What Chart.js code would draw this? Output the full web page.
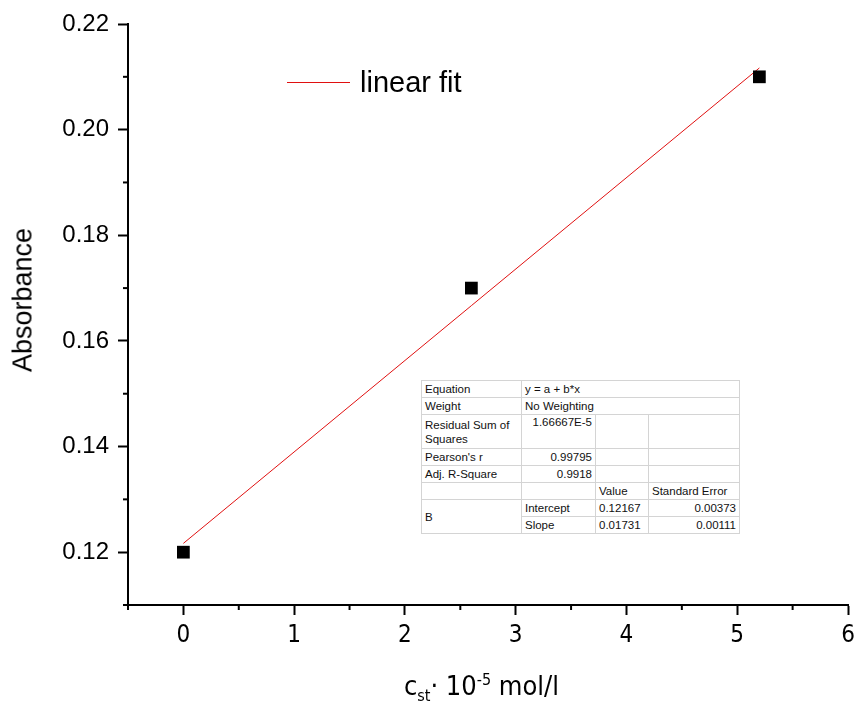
<!DOCTYPE html>
<html>
<head>
<meta charset="utf-8">
<script src="https://cdn.jsdelivr.net/npm/chart.js@4.4.1/dist/chart.umd.min.js"></script>
<style>
  body { margin: 0; background: #fff; }
  #wrap { position: relative; width: 857px; height: 702px; }
  #chart { position: absolute; left: 0; top: 0; }
  .legend { position: absolute; left: 287px; top: 65px; height: 34px; display: flex; align-items: center;
            font-family: "Liberation Sans", Arial, sans-serif; font-size: 29px; color: #000; }
  .legend .swatch { width: 63px; height: 0; border-top: 1px solid #e01010; margin-right: 10px; }
  .ytitle { position: absolute; left: 23px; top: 300px; transform: translate(-50%, -50%) rotate(-90deg);
            font-family: "Liberation Sans", Arial, sans-serif; font-size: 27px; color: #000; white-space: nowrap; }
  .xtitle { position: absolute; left: 0; width: 963px; top: 670px; text-align: center;
            font-family: "Liberation Sans Narrow", "DejaVu Sans Condensed", sans-serif; font-size: 27px; color: #000; }
  .xtitle sub, .xtitle sup { font-size: 16px; }
  table.fit { position: absolute; left: 421px; top: 380px; width: 318px; border-collapse: collapse;
              font-family: "Liberation Sans", Arial, sans-serif; font-size: 11.5px; color: #111; background: #fff;
              border: 1px solid #999; table-layout: fixed; }
  table.fit td { border: 1px solid #d4d4d4; padding: 0 3px; height: 16px; line-height: 14px; vertical-align: middle; white-space: nowrap; }
  table.fit td.r { text-align: right; }
  table.fit td.wrap { white-space: normal; height: 33px; }
</style>
</head>
<body>
<div id="wrap">
  <canvas id="chart" width="857" height="702"></canvas>
  <div class="legend"><span class="swatch"></span>linear fit</div>
  <div class="ytitle">Absorbance</div>
  <div class="xtitle">c<sub>st</sub>· 10<sup>-5</sup> mol/l</div>
  <table class="fit">
    <colgroup><col style="width:100px"><col style="width:74px"><col style="width:53px"><col style="width:91px"></colgroup>
    <tr><td>Equation</td><td colspan="3">y = a + b*x</td></tr>
    <tr><td>Weight</td><td colspan="3">No Weighting</td></tr>
    <tr><td class="wrap">Residual Sum of Squares</td><td class="r" style="vertical-align:top">1.66667E-5</td><td></td><td></td></tr>
    <tr><td>Pearson's r</td><td class="r">0.99795</td><td></td><td></td></tr>
    <tr><td>Adj. R-Square</td><td class="r">0.9918</td><td></td><td></td></tr>
    <tr><td></td><td></td><td>Value</td><td>Standard Error</td></tr>
    <tr><td rowspan="2">B</td><td>Intercept</td><td>0.12167</td><td class="r">0.00373</td></tr>
    <tr><td>Slope</td><td>0.01731</td><td class="r">0.00111</td></tr>
  </table>
</div>
<script>
// datos medidos
const concentraciones = [0, 2.6, 5.2];
const absorbancias = [0.12, 0.17, 0.21];

// recta de ajuste (a + b*x en los extremos)
const ajusteX = [0, 5.2];
const ajusteY = [0.12167, 0.21168];

// etiquetas de los ejes
const xEtiquetas = [0, 1, 2, 3, 4, 5, 6];
const yEtiquetas = [0.12, 0.14, 0.16, 0.18, 0.20, 0.22];

const esEtiquetaX = v => xEtiquetas.some(t => Math.abs(t - v) < 1e-6);
const esEtiquetaY = v => yEtiquetas.some(t => Math.abs(t - v) < 1e-6);

// marcas menores más cortas
const marcasMenores = {
    id: "marcasMenores",
    afterDraw(chart) {
        const ctx = chart.ctx;
        const x = chart.scales.x, y = chart.scales.y;
        ctx.save();
        ctx.strokeStyle = "#000";
        ctx.lineWidth = 2;
        x.ticks.forEach(t => {
            if (esEtiquetaX(t.value)) return;
            const px = x.getPixelForValue(t.value);
            ctx.beginPath();
            ctx.moveTo(px, x.top);
            ctx.lineTo(px, x.top + 5);
            ctx.stroke();
        });
        y.ticks.forEach(t => {
            if (esEtiquetaY(t.value)) return;
            const py = y.getPixelForValue(t.value);
            ctx.beginPath();
            ctx.moveTo(y.right, py);
            ctx.lineTo(y.right - 5, py);
            ctx.stroke();
        });
        ctx.restore();
    }
};

new Chart(document.getElementById("chart"), {
    type: "scatter",
    data: {
        datasets: [
            {
                label: "datos",
                data: concentraciones.map((c, i) => ({ x: c, y: absorbancias[i] })),
                pointStyle: "rect",
                pointRadius: 9,
                backgroundColor: "#000",
                borderColor: "#000",
                borderWidth: 0
            },
            {
                label: "linear fit",
                data: ajusteX.map((c, i) => ({ x: c, y: ajusteY[i] })),
                showLine: true,
                pointRadius: 0,
                borderColor: "#e01010",
                borderWidth: 1
            }
        ]
    },
    options: {
        responsive: false,
        animation: false,
        layout: { padding: { top: 24, right: 8, left: 0, bottom: 0 } },
        plugins: { legend: { display: false }, tooltip: { enabled: false } },
        scales: {
            x: {
                type: "linear",
                min: -0.5,
                max: 6,
                afterFit: s => { s.height = 97; s.paddingRight = 0; s.paddingLeft = 0; },
                border: { display: true, color: "#000", width: 2 },
                grid: {
                    drawOnChartArea: false,
                    tickLength: 10,
                    tickWidth: 2,
                    tickColor: c => (c.tick && esEtiquetaX(c.tick.value)) ? "#000" : "rgba(0,0,0,0)"
                },
                ticks: {
                    stepSize: 0.5,
                    padding: 6,
                    color: "#000",
                    font: { family: "'Liberation Sans Narrow', 'DejaVu Sans Condensed', sans-serif", size: 24 },
                    callback: v => esEtiquetaX(v) ? String(v) : ""
                }
            },
            y: {
                type: "linear",
                min: 0.11,
                max: 0.22,
                afterFit: s => { s.width = 128; },
                border: { display: true, color: "#000", width: 2 },
                grid: {
                    drawOnChartArea: false,
                    tickLength: 10,
                    tickWidth: 2,
                    tickColor: c => (c.tick && esEtiquetaY(c.tick.value)) ? "#000" : "rgba(0,0,0,0)"
                },
                ticks: {
                    stepSize: 0.01,
                    padding: 9,
                    color: "#000",
                    font: { family: "'Liberation Sans', Arial, sans-serif", size: 24 },
                    callback: v => esEtiquetaY(v) ? v.toFixed(2) : ""
                }
            }
        }
    },
    plugins: [marcasMenores]
});
</script>
</body>
</html>
